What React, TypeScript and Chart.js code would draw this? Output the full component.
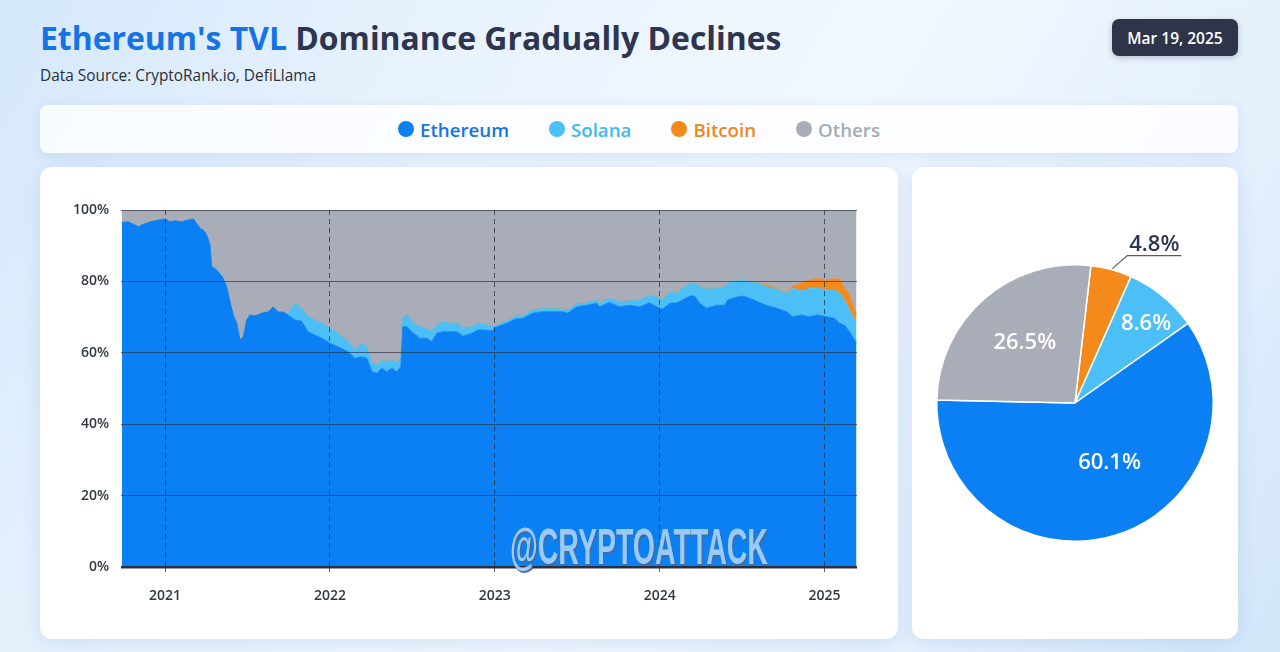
import React, { useEffect, useRef } from 'react';
import { Chart, registerables } from 'chart.js';

Chart.register(...registerables);

// ---------- data ----------
// decimal year of each observation
const timeline = [
  2020.738, 2020.778, 2020.808, 2020.838, 2020.868, 2020.899, 2020.939, 2021.000, 2021.030, 2021.061,
  2021.101, 2021.141, 2021.172, 2021.192, 2021.212, 2021.232, 2021.253, 2021.273, 2021.283, 2021.303,
  2021.323, 2021.353, 2021.374, 2021.394, 2021.414, 2021.435, 2021.455, 2021.475, 2021.495, 2021.515,
  2021.545, 2021.586, 2021.626, 2021.656, 2021.687, 2021.717, 2021.747, 2021.788, 2021.828, 2021.868,
  2021.909, 2021.950, 2022.000, 2022.050, 2022.111, 2022.152, 2022.192, 2022.224, 2022.255, 2022.285,
  2022.315, 2022.345, 2022.376, 2022.406, 2022.430, 2022.442, 2022.467, 2022.497, 2022.545, 2022.588,
  2022.618, 2022.648, 2022.685, 2022.727, 2022.770, 2022.806, 2022.861, 2022.897, 2022.939, 2022.982,
  2023.012, 2023.073, 2023.121, 2023.170, 2023.230, 2023.291, 2023.352, 2023.412, 2023.442, 2023.497,
  2023.558, 2023.618, 2023.636, 2023.697, 2023.758, 2023.818, 2023.879, 2023.939, 2023.982, 2024.018,
  2024.061, 2024.103, 2024.139, 2024.182, 2024.212, 2024.242, 2024.285, 2024.345, 2024.394, 2024.412,
  2024.467, 2024.503, 2024.545, 2024.594, 2024.648, 2024.709, 2024.770, 2024.806, 2024.861, 2024.909,
  2024.958, 2025.012, 2025.061, 2025.091, 2025.121, 2025.152, 2025.182, 2025.194,
];

const ethereumShare = [
  96.5, 96.7, 96.0, 95.3, 96.0, 96.5, 97.0, 97.5, 96.7, 97.0,
  96.7, 97.2, 97.5, 96.2, 94.9, 94.4, 93.0, 90.2, 84.1, 83.6,
  82.7, 80.9, 78.5, 74.3, 70.6, 68.3, 63.6, 64.5, 69.2, 70.6,
  70.3, 71.1, 71.4, 72.9, 71.4, 71.4, 70.6, 69.2, 68.9, 65.9,
  65.0, 64.1, 62.7, 61.7, 60.3, 58.5, 58.9, 58.5, 54.7, 54.3,
  55.7, 54.7, 55.7, 54.7, 56.1, 67.3, 67.3, 65.9, 64.1, 64.1,
  63.1, 65.5, 65.9, 65.9, 65.9, 64.7, 65.5, 66.4, 66.4, 66.2,
  67.3, 68.3, 69.4, 69.7, 71.1, 71.5, 71.5, 71.5, 71.1, 72.9,
  73.3, 73.9, 72.9, 74.1, 72.9, 73.3, 72.9, 74.0, 72.9, 72.2,
  73.9, 74.0, 74.8, 75.9, 75.9, 73.9, 72.5, 73.3, 73.3, 74.8,
  75.6, 75.9, 75.3, 74.3, 73.3, 72.5, 71.5, 70.1, 70.6, 70.1,
  70.6, 70.1, 69.7, 68.3, 67.8, 65.9, 63.6, 62.8,
];

const solanaShare = [
  0, 0, 0, 0, 0, 0, 0, 0, 0, 0,
  0, 0, 0, 0, 0, 0, 0, 0, 0, 0,
  0, 0, 0, 0, 0, 0, 0, 0, 0, 0,
  0, 0, 0, 0, 0, 0, 0.4, 4.7, 3.6, 4.2,
  4.2, 4.2, 4.2, 3.8, 2.8, 2.3, 3.8, 3.2, 2.4, 2.4,
  2.3, 2.7, 2.5, 2.4, 2.8, 2.4, 3.5, 2.8, 3.2, 2.8,
  2.8, 2.3, 2.8, 2.4, 2.5, 2.2, 1.8, 2.0, 1.6, 1.1,
  0.5, 0.6, 0.7, 0.7, 0.9, 0.9, 0.9, 0.7, 0.8, 0.8,
  0.7, 0.9, 1.0, 1.2, 1.4, 1.3, 1.9, 2.1, 2.7, 2.6,
  3.2, 2.7, 3.3, 3.4, 3.6, 4.6, 5.3, 4.8, 5.2, 4.7,
  4.6, 4.5, 4.5, 5.2, 5.2, 5.3, 5.2, 8.0, 6.7, 8.0,
  7.5, 7.5, 7.9, 8.4, 7.0, 6.1, 5.6, 6.2,
];

const bitcoinShare = [
  0, 0, 0, 0, 0, 0, 0, 0, 0, 0,
  0, 0, 0, 0, 0, 0, 0, 0, 0, 0,
  0, 0, 0, 0, 0, 0, 0, 0, 0, 0,
  0, 0, 0, 0, 0, 0, 0, 0, 0, 0,
  0, 0, 0, 0, 0, 0, 0, 0, 0, 0,
  0, 0, 0, 0, 0, 0, 0, 0, 0, 0,
  0, 0, 0, 0, 0, 0, 0, 0, 0, 0,
  0, 0, 0, 0, 0, 0, 0, 0, 0, 0,
  0, 0, 0, 0, 0, 0, 0, 0, 0, 0,
  0, 0, 0, 0, 0, 0, 0, 0, 0, 0,
  0, 0, 0, 0, 0.5, 0.3, 0.1, 0.6, 2.2, 2.2,
  2.7, 2.8, 3.2, 3.9, 3.3, 4.2, 2.8, 2.5,
];

const othersShare = [
  3.5, 3.3, 4.0, 4.7, 4.0, 3.5, 3.0, 2.5, 3.3, 3.0,
  3.3, 2.8, 2.5, 3.8, 5.1, 5.6, 7.0, 9.8, 15.9, 16.4,
  17.3, 19.1, 21.5, 25.7, 29.4, 31.7, 36.4, 35.5, 30.8, 29.4,
  29.7, 28.9, 28.6, 27.1, 28.6, 28.6, 29.0, 26.1, 27.5, 29.9,
  30.8, 31.7, 33.1, 34.5, 36.9, 39.2, 37.3, 38.3, 42.9, 43.3,
  42.0, 42.6, 41.8, 42.9, 41.1, 30.3, 29.2, 31.3, 32.7, 33.1,
  34.1, 32.2, 31.3, 31.7, 31.6, 33.1, 32.7, 31.6, 32.0, 32.7,
  32.2, 31.1, 29.9, 29.6, 28.0, 27.6, 27.6, 27.8, 28.1, 26.3,
  26.0, 25.2, 26.1, 24.7, 25.7, 25.4, 25.2, 23.9, 24.4, 25.2,
  22.9, 23.3, 21.9, 20.7, 20.5, 21.5, 22.2, 21.9, 21.5, 20.5,
  19.8, 19.6, 20.2, 20.5, 21.0, 21.9, 23.2, 21.3, 20.5, 19.7,
  19.2, 19.6, 19.2, 19.4, 21.9, 23.8, 28.0, 28.5,
];

const seriesNames = ['Ethereum', 'Solana', 'Bitcoin', 'Others'];
const yearTicks = [2021, 2022, 2023, 2024, 2025];
const percentTicks = [0, 20, 40, 60, 80, 100];

const pieLabels = ['Bitcoin', 'Solana', 'Ethereum', 'Others'];
const pieShares = [4.8, 8.6, 60.1, 26.5];

// ---------- styles ----------
const COLORS: Record<string, string> = {
  Ethereum: '#0b80f4',
  Solana: '#4cc0f6',
  Bitcoin: '#f38a1b',
  Others: '#a9adb7',
};
const LEGEND_TEXT: Record<string, string> = {
  Ethereum: '#1673e6',
  Solana: '#3fb8f0',
  Bitcoin: '#ec861f',
  Others: '#a5aab4',
};
const FONT = '"Open Sans", "Noto Sans", sans-serif';
const pieLabelStyle = [
  { outside: true, r: 1, shift: 0 },
  { outside: false, r: 0.77, shift: 2.5 },
  { outside: false, r: 0.5, shift: -13 },
  { outside: false, r: 0.57, shift: 1.5 },
];

const pieLabelPlugin = {
  id: 'pieLabels',
  afterDatasetsDraw(chart: any) {
    const ctx = chart.ctx;
    const meta = chart.getDatasetMeta(0);
    meta.data.forEach((arc: any, i: number) => {
      const { x, y, startAngle, endAngle, outerRadius } = arc.getProps(
        ['x', 'y', 'startAngle', 'endAngle', 'outerRadius'],
        true
      );
      const mid = (startAngle + endAngle) / 2;
      const st = pieLabelStyle[i];
      const text = pieShares[i].toFixed(1) + '%';
      ctx.save();
      ctx.font = `600 22px ${FONT}`;
      ctx.textAlign = 'center';
      if (st.outside) {
        const px = x + Math.cos(mid) * outerRadius;
        const py = y + Math.sin(mid) * outerRadius;
        const ex = px + 16;
        const ey = py - 14;
        ctx.strokeStyle = '#555b68';
        ctx.lineWidth = 1.2;
        ctx.beginPath();
        ctx.moveTo(px + 1, py - 1);
        ctx.lineTo(ex, ey);
        ctx.lineTo(ex + 54, ey);
        ctx.stroke();
        ctx.fillStyle = '#2d3550';
        ctx.textBaseline = 'alphabetic';
        ctx.fillText(text, ex + 27, ey - 5);
      } else {
        const a = mid + (st.shift * Math.PI) / 180;
        ctx.fillStyle = '#ffffff';
        ctx.textBaseline = 'middle';
        ctx.fillText(text, x + Math.cos(a) * outerRadius * st.r, y + Math.sin(a) * outerRadius * st.r);
      }
      ctx.restore();
    });
  },
};

function AreaChart() {
  const ref = useRef<HTMLCanvasElement>(null);
  useEffect(() => {
    if (!ref.current) return;
    const values = [ethereumShare, solanaShare, bitcoinShare, othersShare];
    const tickFont = { family: FONT, size: 14, weight: '600' as any };
    const chart = new Chart(ref.current, {
      type: 'line',
      data: {
        datasets: seriesNames.map((name, k) => ({
          label: name,
          data: timeline.map((t, i) => ({ x: t, y: values[k][i] })),
          backgroundColor: COLORS[name],
          borderColor: COLORS[name],
          borderWidth: 0.8,
          pointRadius: 0,
          tension: 0,
          fill: k === 0 ? 'origin' : '-1',
        })),
      },
      options: {
        animation: false,
        responsive: false,
        maintainAspectRatio: false,
        layout: { padding: { top: 43, right: 41, left: 0, bottom: 0 } },
        plugins: { legend: { display: false }, tooltip: { enabled: false } },
        scales: {
          x: {
            type: 'linear',
            min: 2020.733,
            max: 2025.197,
            afterBuildTicks: (s: any) => {
              s.ticks = yearTicks.map((v) => ({ value: v }));
            },
            afterFit: (s: any) => {
              s.height = 72;
            },
            ticks: {
              callback: (v: any) => String(v),
              font: tickFont,
              color: '#333844',
              padding: 16,
              maxRotation: 0,
              autoSkip: false,
            },
            grid: {
              z: 1,
              color: 'rgba(40,45,60,0.75)',
              lineWidth: 1,
              drawTicks: true,
              tickLength: 5,
              tickColor: 'rgba(40,45,60,0.75)',
            },
            border: { display: false, dash: [5, 4] },
          },
          y: {
            stacked: true,
            min: 0,
            max: 100,
            afterBuildTicks: (s: any) => {
              s.ticks = percentTicks.map((v) => ({ value: v }));
            },
            afterFit: (s: any) => {
              s.width = 81;
            },
            ticks: {
              callback: (v: any) => v + '%',
              font: tickFont,
              color: '#333844',
              padding: 12,
            },
            grid: {
              z: 1,
              color: (c: any) => (c.tick && c.tick.value === 0 ? '#283040' : 'rgba(40,45,60,0.65)'),
              lineWidth: (c: any) => (c.tick && c.tick.value === 0 ? 2.5 : 1),
              drawTicks: false,
            },
            border: { display: false },
          },
        },
      },
    });
    return () => chart.destroy();
  }, []);
  return <canvas ref={ref} width={858} height={472} style={{ display: 'block' }} />;
}

function PieChart() {
  const ref = useRef<HTMLCanvasElement>(null);
  useEffect(() => {
    if (!ref.current) return;
    const chart = new Chart(ref.current, {
      type: 'pie',
      data: {
        labels: pieLabels,
        datasets: [
          {
            data: pieShares,
            backgroundColor: pieLabels.map((n) => COLORS[n]),
            borderColor: '#ffffff',
            borderWidth: 1.5,
          },
        ],
      },
      options: {
        animation: false,
        responsive: false,
        maintainAspectRatio: false,
        rotation: 6.6,
        layout: { padding: { left: 24, right: 24, top: 97, bottom: 97 } },
        plugins: { legend: { display: false }, tooltip: { enabled: false } },
      },
      plugins: [pieLabelPlugin],
    });
    return () => chart.destroy();
  }, []);
  return <canvas ref={ref} width={326} height={472} style={{ display: 'block' }} />;
}

const card: React.CSSProperties = {
  position: 'absolute',
  background: '#ffffff',
  borderRadius: 12,
  boxShadow: '0 4px 18px rgba(90,140,210,0.18)',
  overflow: 'hidden',
};

export default function App() {
  return (
    <div
      style={{
        position: 'absolute',
        left: 0,
        top: 0,
        width: 1280,
        height: 652,
        overflow: 'hidden',
        fontFamily: FONT,
        background:
          'linear-gradient(120deg, #d4e8fb 0%, #e9f3fd 30%, #f1f7fe 55%, #e4f0fc 80%, #d2e6fa 100%)',
      }}
    >
      <div
        style={{
          position: 'absolute',
          left: 40,
          top: 16,
          fontSize: 31.9,
          fontWeight: 700,
          color: '#2d3550',
          whiteSpace: 'nowrap',
          lineHeight: '44px',
        }}
      >
        <span style={{ color: '#1673e6' }}>Ethereum's TVL</span> Dominance Gradually Declines
      </div>
      <div
        style={{
          position: 'absolute',
          left: 40,
          top: 66,
          fontSize: 15.4,
          color: '#2a2f3a',
          whiteSpace: 'nowrap',
          lineHeight: '20px',
        }}
      >
        Data Source: CryptoRank.io, DefiLlama
      </div>
      <div
        style={{
          position: 'absolute',
          left: 1112,
          top: 19,
          width: 126,
          height: 37,
          borderRadius: 7,
          background: '#2f3448',
          color: '#ffffff',
          fontSize: 15.5,
          fontWeight: 600,
          display: 'flex',
          alignItems: 'center',
          justifyContent: 'center',
          boxShadow: '0 2px 6px rgba(40,50,80,0.25)',
        }}
      >
        Mar 19, 2025
      </div>

      <div
        style={{
          position: 'absolute',
          left: 40,
          top: 105,
          width: 1198,
          height: 48,
          borderRadius: 8,
          background: 'rgba(255,255,255,0.8)',
          boxShadow: '0 3px 12px rgba(90,140,210,0.15)',
          display: 'flex',
          alignItems: 'center',
          justifyContent: 'center',
          gap: 40,
        }}
      >
        {seriesNames.map((n) => (
          <div key={n} style={{ display: 'flex', alignItems: 'center', gap: 6 }}>
            <span
              style={{
                width: 16,
                height: 16,
                borderRadius: '50%',
                background: COLORS[n],
                display: 'inline-block',
              }}
            />
            <span style={{ fontSize: 18.7, fontWeight: 600, color: LEGEND_TEXT[n] }}>{n}</span>
          </div>
        ))}
      </div>

      <div style={{ ...card, left: 40, top: 167, width: 858, height: 472 }}>
        <AreaChart />
        <div
          style={{
            position: 'absolute',
            left: 470,
            top: 354.5,
            fontFamily: '"Liberation Sans Narrow", "Liberation Sans", sans-serif',
            fontWeight: 700,
            fontSize: 50,
            lineHeight: '50px',
            color: '#a6d1fa',
            whiteSpace: 'nowrap',
            transform: 'scaleX(0.57)',
            transformOrigin: 'left top',
            textShadow: '2px 2px 0 #4a6a98, 1px 1px 0 #4a6a98',
            opacity: 0.92,
            pointerEvents: 'none',
          }}
        >
          @CRYPTOATTACK
        </div>
      </div>

      <div style={{ ...card, left: 912, top: 167, width: 326, height: 472 }}>
        <PieChart />
      </div>
    </div>
  );
}
